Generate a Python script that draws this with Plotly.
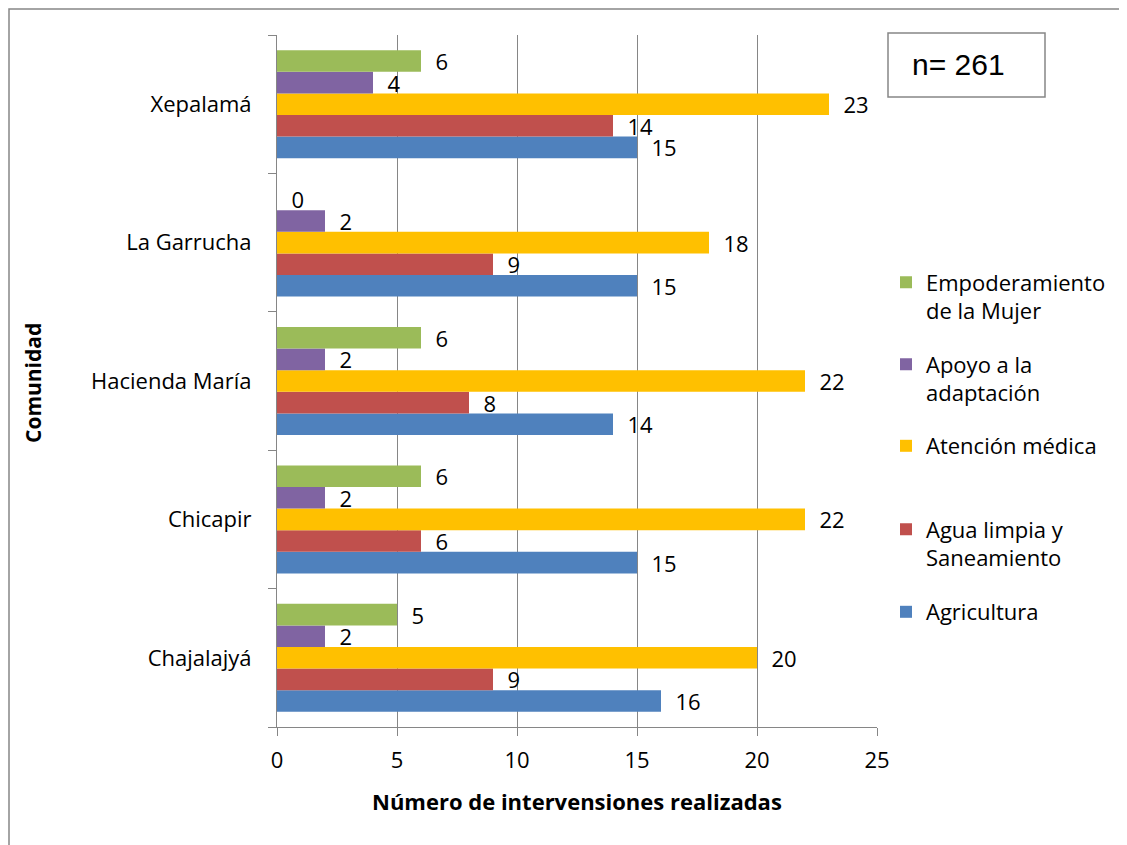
import plotly.graph_objects as go

communities = ["Chajalajyá", "Chicapir", "Hacienda María", "La Garrucha", "Xepalamá"]
series_names = ["Agricultura", "Agua limpia y<br>Saneamiento", "Atención médica",
                "Apoyo a la<br>adaptación", "Empoderamiento<br>de la Mujer"]
agricultura = [16, 15, 14, 15, 15]
agua = [9, 6, 8, 9, 14]
atencion = [20, 22, 22, 18, 23]
apoyo = [2, 2, 2, 2, 4]
empoderamiento = [5, 6, 6, 0, 6]
colors = ["#4F81BD", "#C0504D", "#FFC000", "#8064A2", "#9BBB59"]
x_ticks = [0, 5, 10, 15, 20, 25]

FONT = "Open Sans, Lato, sans-serif"
FS = 22
values = [agricultura, agua, atencion, apoyo, empoderamiento]
legend_ids = ["legend5", "legend4", "legend3", "legend2", "legend"]
legend_y_px = [612, 544, 446, 379, 297]

OFF = 8  # page body offset
W, H = 1127 - OFF, 845 - OFF
L, T = 277 - OFF, 35 - OFF
R = W - (877 - OFF)
B = H - (727 - OFF)
pw, ph = W - L - R, H - T - B


def px_x(x):
    return (x - OFF - L) / pw


def px_y(y):
    return (H - B - (y - OFF)) / ph


fig = go.Figure()
for name, vals, col, lid in zip(series_names, values, colors, legend_ids):
    fig.add_trace(go.Bar(
        y=communities, x=vals, name=name, orientation="h",
        marker=dict(color=col, line=dict(width=0)),
        texttemplate="\u00a0\u00a0%{x}", textposition="outside",
        textfont=dict(family=FONT, size=FS, color="#000"),
        constraintext="none", cliponaxis=False, legend=lid,
    ))

layout = dict(
    width=W, height=H, barmode="group", bargap=0.22, bargroupgap=0,
    showlegend=True,
    plot_bgcolor="white", paper_bgcolor="white",
    margin=dict(l=L, r=R, t=T, b=B, pad=0, autoexpand=False),
    font=dict(family=FONT, size=FS, color="#000"),
    xaxis=dict(range=[0, 25], tickvals=x_ticks, showgrid=True, gridcolor="#868686",
               gridwidth=1, zeroline=False, showline=True, linecolor="#868686",
               ticks="outside", ticklen=8, tickcolor="#868686",
               tickfont=dict(family=FONT, size=FS), ticklabelstandoff=6,
               automargin=False),
    yaxis=dict(showline=True, linecolor="#868686", ticks="outside", ticklen=8,
               tickcolor="#868686", tickson="boundaries", showgrid=False,
               tickfont=dict(family=FONT, size=FS), ticklabelstandoff=20,
               categoryorder="array", categoryarray=communities, automargin=False),
    shapes=[
        dict(type="rect", xref="paper", yref="paper",
             x0=px_x(9), x1=1.6, y0=-0.6, y1=px_y(9),
             line=dict(color="#868686", width=1.5), fillcolor="rgba(0,0,0,0)"),
        dict(type="rect", xref="paper", yref="paper",
             x0=px_x(888), x1=px_x(1045), y0=px_y(97), y1=px_y(33),
             line=dict(color="#868686", width=1.5), fillcolor="white"),
    ],
    annotations=[
        dict(text="n= 261", xref="paper", yref="paper", x=px_x(958), y=px_y(65),
             showarrow=False,
             font=dict(family="Liberation Sans, Arial", size=30, color="#000"),
             xanchor="center", yanchor="middle"),
        dict(text="<b>Número de intervensiones realizadas</b>", xref="paper",
             yref="paper", x=0.5, y=px_y(801), showarrow=False,
             font=dict(family=FONT, size=22, color="#000"),
             xanchor="center", yanchor="middle"),
        dict(text="<b>Comunidad</b>", xref="paper", yref="paper",
             x=px_x(33), y=px_y(383), showarrow=False, textangle=-90,
             font=dict(family=FONT, size=21, color="#000"),
             xanchor="center", yanchor="middle"),
    ],
)
for lid, ly in zip(legend_ids, legend_y_px):
    layout[lid] = dict(x=px_x(886), y=px_y(ly), xanchor="left", yanchor="middle",
                       bgcolor="rgba(0,0,0,0)", font=dict(family=FONT, size=FS),
                       valign="top", itemwidth=30)
fig.update_layout(**layout)
fig.write_html("out.html")
